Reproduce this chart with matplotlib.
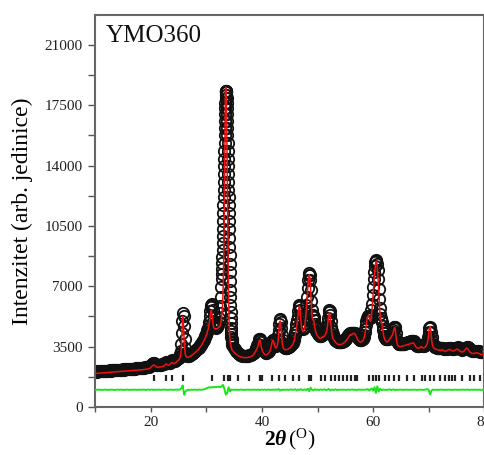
import numpy as np
import matplotlib
matplotlib.use("Agg")
import matplotlib.pyplot as plt
from matplotlib.ticker import MultipleLocator, FixedLocator

plt.rcParams['font.family'] = ['Liberation Serif', 'DejaVu Serif']
plt.rcParams['mathtext.fontset'] = 'custom'
plt.rcParams['mathtext.rm'] = 'Liberation Serif'
plt.rcParams['mathtext.it'] = 'Liberation Serif:italic'
plt.rcParams['mathtext.bf'] = 'Liberation Serif:bold'
try:
    plt.rcParams['mathtext.bfit'] = 'Liberation Serif:italic:bold'
except KeyError:
    pass

# ---------------- data (2theta in degrees, intensity in counts) ----------------
# observed / calculated intensities, given per scan segment: (start, step, values)
seg1_start, seg1_step = 10.0, 0.2
obs_seg1 = [2050, 2060, 2040, 2070, 2060, 2080, 2070, 2090, 2080, 2100,
            2090, 2110, 2100, 2120, 2110, 2130, 2120, 2140, 2130, 2150,
            2140, 2160, 2150, 2170, 2160, 2180, 2170, 2190, 2180, 2200,
            2190, 2210, 2200, 2220, 2210, 2230, 2220, 2240, 2250, 2240,
            2260, 2270, 2260, 2280, 2290, 2300, 2310, 2320, 2340, 2370,
            2420, 2480, 2530, 2560, 2510, 2450, 2420, 2430, 2440, 2460,
            2470, 2490, 2520, 2580, 2620, 2570, 2550, 2580, 2640, 2700,
            2660, 2640, 2680, 2740, 2800]
calc_seg1 = [1940, 1950, 1955, 1960, 1965, 1970, 1975, 1980, 1985, 1990,
             1995, 2000, 2005, 2010, 2015, 2020, 2025, 2030, 2035, 2040,
             2045, 2050, 2055, 2060, 2065, 2070, 2075, 2080, 2085, 2090,
             2095, 2100, 2105, 2110, 2115, 2120, 2125, 2130, 2135, 2140,
             2145, 2150, 2155, 2160, 2170, 2180, 2190, 2200, 2215, 2240,
             2290, 2350, 2410, 2440, 2380, 2320, 2300, 2310, 2320, 2330,
             2340, 2360, 2390, 2450, 2500, 2440, 2420, 2450, 2520, 2580,
             2530, 2510, 2550, 2610, 2680]

seg2_start, seg2_step = 25.0, 0.1
obs_seg2 = [2860, 2900, 2960, 3050, 3250, 3650, 4300, 5000, 5450, 5300,
            4700, 3950, 3400, 3150, 3050, 3000, 2980, 2970, 2980, 3000,
            3020, 3040, 3060, 3080, 3100, 3120, 3150, 3170, 3200, 3230,
            3260, 3290, 3320, 3350, 3380, 3410, 3450, 3490, 3530, 3570,
            3620, 3670, 3720, 3780, 3840, 3900, 3960, 4030, 4100, 4180,
            4260, 4350, 4460, 4580, 4740, 4950, 5250, 5550, 5800, 5930,
            5950, 5850, 5600, 5300, 5000, 4800, 4680, 4620, 4600, 4620,
            4680, 4780, 4930, 5150, 5450, 5850, 6350, 6950]
calc_seg2 = [2720, 2760, 2810, 2900, 3050, 3400, 4100, 4900, 5250, 4700,
             3900, 3350, 3080, 2960, 2910, 2890, 2880, 2880, 2890, 2900,
             2920, 2940, 2960, 2980, 3000, 3020, 3050, 3070, 3100, 3130,
             3160, 3190, 3220, 3250, 3280, 3310, 3350, 3390, 3430, 3470,
             3520, 3570, 3620, 3680, 3740, 3800, 3860, 3930, 4000, 4080,
             4160, 4250, 4360, 4480, 4620, 4800, 5050, 5300, 5500, 5600,
             5450, 5100, 4800, 4640, 4570, 4540, 4520, 4510, 4520, 4540,
             4560, 4580, 4600, 4630, 4670, 4720, 4850, 5100]

seg3_start, seg3_step = 32.8, 0.025
obs_seg3 = [7400, 7700, 8000, 8350, 8700, 9100, 9500, 9900, 10350, 10800,
            11250, 11700, 12150, 12600, 13050, 13500, 13950, 14400, 14850, 15300,
            15750, 16200, 16600, 17000, 17350, 17650, 17900, 18100, 18250, 18330,
            18350, 18330, 18250, 18100, 17900, 17650, 17350, 17000, 16600, 16200,
            15750, 15300, 14850, 14400, 13950, 13500, 13050, 12600, 12150, 11700,
            11250, 10800, 10300, 9800, 9300, 8800, 8300, 7800, 7300, 6800,
            6350, 5900, 5500, 5150, 4850, 4600, 4400, 4230, 4080, 3960,
            3860, 3780, 3700]
calc_seg3 = [5350, 5450, 5550, 5680, 5820, 5980, 6160, 6370, 6600, 6870,
             7180, 7550, 7980, 8500, 9100, 9800, 10600, 11500, 12450, 13450,
             14450, 15400, 16250, 17000, 17600, 18050, 18350, 18500, 18550, 18500,
             18350, 18100, 17750, 17300, 16750, 16100, 15400, 14650, 13850, 13000,
             12150, 11300, 10450, 9650, 8900, 8200, 7550, 6950, 6400, 5950,
             5550, 5200, 4900, 4650, 4450, 4280, 4140, 4020, 3920, 3840,
             3770, 3710, 3660, 3610, 3570, 3530, 3490, 3460, 3430, 3400,
             3370, 3340, 3310]

seg4_start, seg4_step = 34.7, 0.2
obs_seg4 = [3600, 3450, 3340, 3250, 3180, 3120, 3070, 3030, 3000, 2980,
            2960, 2950, 2950, 2960, 2970, 2990, 3010, 3040, 3080, 3140,
            3230, 3380]
calc_seg4 = [3280, 3200, 3130, 3070, 3020, 2980, 2950, 2920, 2900, 2880,
             2870, 2860, 2860, 2870, 2880, 2890, 2910, 2940, 2980, 3040,
             3130, 3260]

seg5_start, seg5_step = 39.0, 0.1
obs_seg5 = [3430, 3490, 3570, 3680, 3820, 3920, 3950, 3900, 3760, 3600,
            3470, 3380, 3310, 3260, 3220, 3190, 3170, 3160, 3160, 3170,
            3190, 3220, 3260, 3310, 3370, 3450, 3560, 3690, 3820, 3880,
            3870, 3800, 3700, 3620, 3570, 3560, 3600, 3700, 3880, 4150,
            4450, 4800, 5050, 5100, 4950, 4600, 4200, 3900, 3700, 3580,
            3500, 3470, 3450, 3440, 3440, 3450, 3460, 3480, 3500, 3520,
            3540, 3570, 3600, 3640, 3690, 3740, 3810, 3900, 4020, 4180,
            4370, 4580, 4800, 5030, 5300, 5580, 5820, 5900, 5850, 5600,
            5200, 4880, 4680, 4570, 4530, 4560, 4660, 4850, 5120, 5470,
            5900, 6400, 6900, 7350, 7650, 7750, 7680, 7350, 6800, 6150,
            5600, 5350, 5250, 5200, 5050, 4820, 4650, 4520, 4420, 4340,
            4280, 4230, 4190, 4160, 4140, 4130, 4140, 4160, 4190, 4220,
            4240, 4260, 4290, 4330, 4380, 4450, 4560, 4700, 4900, 5180,
            5480, 5600, 5550, 5320, 4980, 4650, 4400, 4230, 4120, 4050,
            3990, 3940, 3900, 3860, 3830, 3810, 3790, 3780, 3770, 3760,
            3760, 3760, 3770, 3780, 3790, 3810, 3830, 3850, 3880, 3910,
            3940, 3970, 4010, 4050, 4100, 4150, 4190, 4230, 4260, 4280,
            4290, 4300, 4310, 4310, 4310, 4300, 4290, 4270, 4240, 4200,
            4150, 4100, 4050, 4000, 3960, 3930, 3910, 3900, 3900, 3910,
            3930, 3960, 4010, 4080, 4180, 4330, 4530, 4770, 5000, 5180,
            5260, 5300, 5290, 5220, 5150, 5150, 5300, 5600, 6000, 6500,
            6950, 7400, 7800, 8150, 8400, 8500, 8480, 8300, 7950, 7450,
            6850, 6250, 5750, 5400, 5180, 5050, 4900, 4680, 4450, 4270,
            4140, 4050, 3990, 3950, 3930, 3920, 3930, 3950, 3990, 4040,
            4090, 4140, 4190, 4240, 4290, 4350, 4440, 4560, 4650, 4660,
            4560, 4280, 4020, 3850, 3750, 3690, 3650, 3640, 3630, 3630,
            3630, 3640, 3640, 3650, 3660, 3670, 3680, 3690, 3700, 3710,
            3720, 3730, 3740, 3750, 3760, 3770, 3780, 3790, 3800, 3810,
            3820, 3830, 3830, 3810, 3770, 3710, 3650, 3610, 3580, 3560,
            3550, 3540, 3540, 3550, 3570, 3590, 3610, 3610, 3590, 3570,
            3560, 3560, 3570, 3590, 3620, 3660, 3710, 3780, 3890, 4070,
            4330, 4560, 4640, 4580, 4350, 4050, 3820, 3680, 3600, 3550,
            3520, 3500, 3480, 3470, 3460, 3450, 3440, 3430, 3420, 3420,
            3420]
calc_seg5 = [3320, 3380, 3450, 3560, 3700, 3830, 3880, 3800, 3620, 3450,
             3330, 3240, 3170, 3120, 3080, 3050, 3030, 3020, 3020, 3030,
             3050, 3080, 3120, 3170, 3230, 3310, 3420, 3560, 3720, 3850,
             3870, 3780, 3650, 3530, 3450, 3420, 3440, 3500, 3620, 3850,
             4200, 4650, 4950, 4980, 4700, 4250, 3850, 3600, 3460, 3390,
             3350, 3330, 3320, 3320, 3320, 3330, 3340, 3360, 3380, 3400,
             3420, 3450, 3480, 3520, 3560, 3600, 3660, 3740, 3850, 4000,
             4180, 4380, 4560, 4780, 5050, 5350, 5650, 5850, 5800, 5450,
             5000, 4700, 4500, 4400, 4370, 4400, 4500, 4680, 4950, 5300,
             5750, 6250, 6750, 7200, 7500, 7650, 7550, 7150, 6500, 5800,
             5300, 5100, 5050, 5000, 4850, 4600, 4450, 4330, 4240, 4170,
             4120, 4070, 4030, 4000, 3980, 3980, 3990, 4010, 4040, 4080,
             4060, 4080, 4110, 4150, 4200, 4270, 4370, 4500, 4700, 4980,
             5300, 5450, 5400, 5150, 4800, 4450, 4200, 4050, 3960, 3900,
             3850, 3800, 3760, 3720, 3690, 3670, 3650, 3640, 3630, 3620,
             3620, 3620, 3630, 3640, 3650, 3670, 3690, 3710, 3740, 3770,
             3800, 3830, 3870, 3910, 3960, 4010, 4060, 4110, 4160, 4200,
             4150, 4190, 4220, 4240, 4260, 4270, 4270, 4250, 4210, 4150,
             4080, 4000, 3930, 3870, 3830, 3800, 3780, 3770, 3770, 3780,
             3800, 3830, 3880, 3950, 4050, 4200, 4400, 4650, 4900, 5100,
             5200, 5300, 5320, 5200, 5050, 4980, 5050, 5300, 5650, 6050,
             6500, 7000, 7500, 7900, 8200, 8400, 8450, 8300, 7900, 7300,
             6700, 6100, 5600, 5250, 5050, 4950, 4800, 4550, 4300, 4120,
             4000, 3920, 3860, 3820, 3790, 3780, 3790, 3820, 3860, 3900,
             3950, 4000, 4050, 4100, 4150, 4220, 4320, 4450, 4580, 4600,
             4450, 4150, 3880, 3700, 3600, 3540, 3510, 3500, 3500, 3500,
             3500, 3510, 3520, 3530, 3540, 3550, 3560, 3570, 3580, 3590,
             3600, 3610, 3620, 3630, 3640, 3650, 3660, 3670, 3680, 3690,
             3700, 3710, 3720, 3700, 3650, 3580, 3520, 3480, 3450, 3430,
             3420, 3410, 3410, 3420, 3440, 3470, 3500, 3490, 3460, 3440,
             3430, 3430, 3440, 3460, 3490, 3530, 3580, 3650, 3760, 3950,
             4250, 4550, 4680, 4600, 4300, 3950, 3700, 3560, 3480, 3430,
             3400, 3380, 3360, 3350, 3340, 3330, 3320, 3310, 3300, 3300,
             3300]

seg6_start, seg6_step = 72.2, 0.2
obs_seg6 = [3400, 3440, 3420, 3380, 3370, 3380, 3410, 3440, 3450, 3420,
            3390, 3380, 3390, 3420, 3450, 3460, 3430, 3380, 3340, 3330,
            3340, 3380, 3440, 3500, 3480, 3400, 3320, 3280, 3250, 3240,
            3240, 3250, 3270, 3260, 3230, 3210, 3200, 3200, 3200, 3210]
calc_seg6 = [3260, 3330, 3290, 3240, 3230, 3250, 3290, 3330, 3340, 3300,
             3260, 3250, 3270, 3310, 3350, 3360, 3310, 3240, 3200, 3190,
             3210, 3260, 3340, 3420, 3380, 3280, 3190, 3140, 3110, 3100,
             3100, 3120, 3150, 3140, 3100, 3070, 3050, 3040, 3040, 3050]

# difference curve (observed - calculated, shifted), 10..80 deg
diff_start, diff_step = 10.0, 0.25
diff_vals = [1000, 990, 1010, 995, 1005, 985, 1000, 1010,
             995, 1005, 990, 1000, 1010, 995, 985, 1000,
             1005, 995, 1010, 1000, 990, 1005, 995, 1010,
             1000, 990, 1005, 1000, 995, 1010, 990, 1000,
             1005, 995, 1000, 1015, 990, 1000, 1010, 995,
             1000, 1020, 985, 1005, 995, 1000, 1010, 990,
             1000, 1005, 1015, 990, 1000, 995, 1010, 1000,
             990, 1005, 1000, 1010, 995, 1020, 1080, 1250,
             720, 900, 980, 1000, 990, 1005, 995, 1000,
             1005, 990, 1000, 1010, 995, 1005, 1020, 1040,
             1080, 1110, 1150, 1120, 1160, 1140, 1170, 1150,
             1160, 1180, 1150, 1200, 1280, 1050, 720, 800,
             1150, 900, 1020, 990, 1010, 995, 1005, 990,
             1000, 1010, 995, 1005, 990, 1000, 1010, 995,
             1000, 990, 1010, 1005, 990, 1020, 980, 1000,
             1005, 995, 1010, 990, 1000, 1015, 985, 1000,
             1010, 990, 1020, 995, 1040, 950, 1000, 990,
             1005, 995, 1010, 990, 1000, 1020, 990, 1005,
             1030, 960, 1010, 990, 1040, 980, 1000, 1020,
             980, 1060, 920, 1120, 1000, 960, 1030, 990,
             1010, 980, 1020, 1000, 990, 1030, 980, 1000,
             1050, 960, 1010, 990, 1000, 1020, 980, 1005,
             995, 1010, 990, 1005, 1000, 985, 1010, 995,
             1000, 1020, 990, 1010, 980, 1000, 1010, 995,
             1005, 990, 1010, 1000, 1040, 960, 1020, 1080,
             950, 1150, 820, 1200, 900, 1050, 980, 1010,
             1000, 990, 1010, 995, 1030, 980, 1005, 1020,
             970, 1010, 995, 1000, 1010, 990, 1000, 1005,
             995, 1010, 990, 1000, 1005, 995, 1010, 990,
             1000, 1005, 995, 1010, 990, 1000, 1015, 1040,
             1000, 720, 950, 1010, 995, 1000, 1005, 990,
             1000, 1010, 995, 1005, 990, 1000, 1010, 995,
             1005, 990, 1000, 1010, 995, 1000, 990, 1005,
             1000, 1010, 995, 1000, 1015, 990, 1000, 1005,
             995, 1000, 1010, 990, 1005, 1000, 995, 1000,
             1000]

# Bragg reflection positions (deg) and the level at which their markers sit
bragg_pos = [20.65, 22.75, 23.9, 25.75, 31.0, 33.1, 33.9, 34.3, 35.7, 37.6,
             39.6, 40.0, 41.8, 43.0, 44.1, 45.5, 46.7, 48.4, 48.9, 50.7,
             51.3, 52.5, 53.2, 53.9, 54.5, 55.3, 56.1, 56.7, 57.1, 59.3,
             59.9, 60.5, 61.1, 62.2, 62.8, 63.7, 64.6, 66.1, 67.3, 68.8,
             69.4, 70.3, 70.9, 72.1, 73.0, 73.6, 74.2, 74.8, 76.0, 77.5,
             78.1, 79.3]
bragg_level = 1680

sample_name = "YMO360"
x_major = [20, 40, 60, 80]
x_minor = [10, 30, 50, 70]

# ---------------- build arrays ----------------
segments = [(seg1_start, seg1_step, obs_seg1, calc_seg1),
            (seg2_start, seg2_step, obs_seg2, calc_seg2),
            (seg3_start, seg3_step, obs_seg3, calc_seg3),
            (seg4_start, seg4_step, obs_seg4, calc_seg4),
            (seg5_start, seg5_step, obs_seg5, calc_seg5),
            (seg6_start, seg6_step, obs_seg6, calc_seg6)]
x_obs, y_obs, x_calc, y_calc = [], [], [], []
for s, d, o, c in segments:
    x_obs.append(s + d * np.arange(len(o)))
    y_obs.append(np.array(o, float))
    x_calc.append(s + d * np.arange(len(c)))
    y_calc.append(np.array(c, float))
x_obs = np.concatenate(x_obs); y_obs = np.concatenate(y_obs)
x_calc = np.concatenate(x_calc); y_calc = np.concatenate(y_calc)
x_diff = diff_start + diff_step * np.arange(len(diff_vals))
y_diff = np.array(diff_vals, float)

# ---------------- figure ----------------
fig = plt.figure(figsize=(4.85, 4.55), dpi=100)
ax = fig.add_axes([0.1962, 0.1055, 0.8024, 0.8615])

ax.plot(x_obs, y_obs, linestyle='none', marker='o', ms=8.2, mfc='none',
        mec='#111111', mew=1.3, zorder=2)
ax.plot(x_calc, y_calc, color='#ee1111', lw=1.1, zorder=3)
ax.plot(x_diff, y_diff, color='#19e619', lw=1.4, zorder=3)
ax.plot(bragg_pos, [bragg_level] * len(bragg_pos), linestyle='none',
        marker='|', ms=5, mew=1.6, color='#222222', zorder=3)

ax.set_xlim(10, 80)
ax.set_ylim(0, 22730)

ax.xaxis.set_major_locator(FixedLocator(x_major))
ax.xaxis.set_minor_locator(FixedLocator(x_minor))
ax.yaxis.set_major_locator(MultipleLocator(3500))
ax.yaxis.set_minor_locator(MultipleLocator(1750))

for sp in ax.spines.values():
    sp.set_color('#666666')
    sp.set_linewidth(1.5)

ax.tick_params(axis='x', which='both', direction='out', length=3.5, width=1.0,
               color='#555555', labelsize=11, labelcolor='#222222', pad=3,
               top=False)
ax.tick_params(axis='y', which='both', direction='out', length=5, width=1.0,
               color='#555555', labelsize=11, labelcolor='#222222', pad=4,
               right=False)

ax.set_ylabel('Intenzitet (arb. jedinice)', fontsize=17, labelpad=8)
ax.set_xlabel(r'$\mathbf{2}\mathbfit{\theta}\,(^{\mathrm{O}})$', fontsize=15.5,
              labelpad=-1.5)

ax.text(0.028, 0.931, sample_name, transform=ax.transAxes, fontsize=18,
        ha='left', va='baseline', color='#111111')

fig.savefig('out.png', dpi=100)
